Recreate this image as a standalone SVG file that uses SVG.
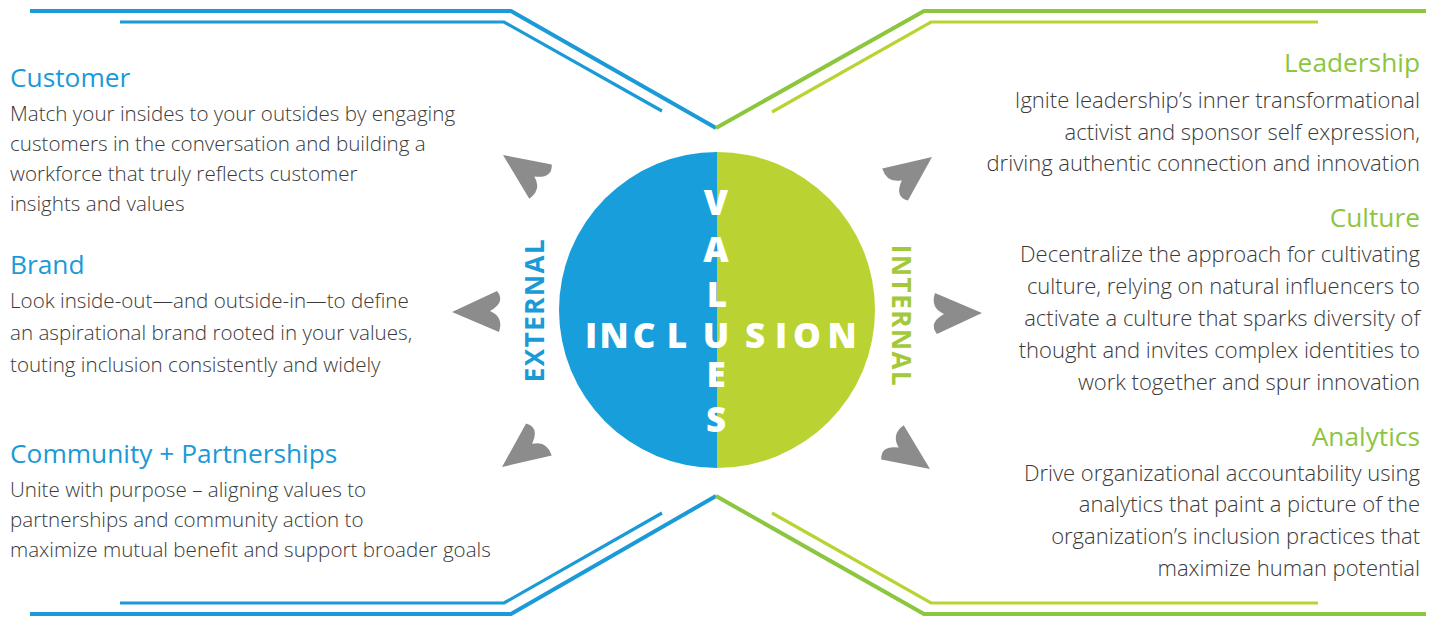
<svg xmlns="http://www.w3.org/2000/svg" width="1435" height="617" viewBox="0 0 1435 617">
<style>
.h{font-family:"Open Sans","Liberation Sans",sans-serif;font-size:26.3px;font-weight:400}
.b{font-family:"Open Sans","Liberation Sans",sans-serif;font-size:20.6px;font-weight:300;fill:#3a3a3a}
.br{font-size:22px}
.bl{fill:#1a9ad6}
.gr{fill:#8cc63f}
.r{text-anchor:end}
.lb{fill:none;stroke:#1a9ad6}
.lg{fill:none;stroke:#8cc63f}
.ly{fill:none;stroke:#b8d433}
.o{stroke-width:4}
.i{stroke-width:3.2}
.arw{fill:#8c8c8c}
.big{font-family:"Open Sans","Liberation Sans",sans-serif;font-weight:800;fill:#ffffff;font-size:35px;text-anchor:middle}
.side{font-family:"Open Sans","Liberation Sans",sans-serif;font-weight:700;font-size:26px;letter-spacing:1.5px;text-anchor:middle}
</style>
<defs>
<path id="ah" d="M0,0 L-47,-20 Q-52,-5 -38,1 Q-54,10 -45,21 Z"/>
</defs>
<g id="connectors">
<path class="lb o" d="M30,11 L511,11 L716,128"/>
<path class="lb i" d="M120,22 L504,22 L662,111"/>
<path class="lg o" d="M716,128 L924,11 L1426,11"/>
<path class="ly i" d="M772,112 L931,22 L1318,22"/>
<path class="lb o" d="M716,496 L511,614 L30,614"/>
<path class="lb i" d="M662,513 L504,603 L120,603"/>
<path class="lg o" d="M716,496 L924,614 L1426,614"/>
<path class="ly i" d="M772,513 L931,603 L1318,603"/>
<use href="#ah" class="arw" transform="translate(503,155) rotate(-144)"/>
<use href="#ah" class="arw" transform="translate(452,312) rotate(180)"/>
<use href="#ah" class="arw" transform="translate(502,467) rotate(144)"/>
<use href="#ah" class="arw" transform="translate(932,157) rotate(-36)"/>
<use href="#ah" class="arw" transform="translate(982,313)"/>
<use href="#ah" class="arw" transform="translate(930,469) rotate(36)"/>
</g>
<g id="center">
<path d="M717,152 A158,158 0 0 0 717,468 Z" fill="#189fdb"/>
<path d="M717,152 A158,158 0 0 1 717,468 Z" fill="#bad333"/>
<text class="big" x="716" y="215">V</text>
<text class="big" x="716" y="262">A</text>
<text class="big" x="717" y="307">L</text>
<text class="big" x="716" y="387">E</text>
<text class="big" x="716" y="432">S</text>
<text class="big" x="591" y="348">I</text>
<text class="big" x="614" y="348">N</text>
<text class="big" x="644" y="348">C</text>
<text class="big" x="677" y="348">L</text>
<text class="big" x="716" y="348">U</text>
<text class="big" x="755" y="348">S</text>
<text class="big" x="781" y="348">I</text>
<text class="big" x="807" y="348">O</text>
<text class="big" x="842" y="348">N</text>
</g>
<g id="external">
<text class="side bl" transform="translate(544,310) rotate(-90)">EXTERNAL</text>
</g>
<g id="internal">
<text class="side" fill="#a3c93a" transform="translate(892,316) rotate(90)">INTERNAL</text>
</g>
<g id="customer">
<text class="h bl" x="10" y="87">Customer</text>
<text class="b" x="10" y="121">Match your insides to your outsides by engaging</text>
<text class="b" x="10" y="151">customers in the conversation and building a</text>
<text class="b" x="10" y="181">workforce that truly reflects customer</text>
<text class="b" x="10" y="211">insights and values</text>
</g>
<g id="brand">
<text class="h bl" x="10" y="274">Brand</text>
<text class="b" x="10" y="308">Look inside-out—and outside-in—to define</text>
<text class="b" x="10" y="340">an aspirational brand rooted in your values,</text>
<text class="b" x="10" y="372">touting inclusion consistently and widely</text>
</g>
<g id="community">
<text class="h bl" x="10" y="463">Community + Partnerships</text>
<text class="b" x="10" y="497">Unite with purpose – aligning values to</text>
<text class="b" x="10" y="527">partnerships and community action to</text>
<text class="b" x="10" y="557">maximize mutual benefit and support broader goals</text>
</g>
<g id="leadership">
<text class="h gr r" x="1420" y="72">Leadership</text>
<text class="b br r" x="1420" y="108">Ignite leadership’s inner transformational</text>
<text class="b br r" x="1420" y="140">activist and sponsor self expression,</text>
<text class="b br r" x="1420" y="171">driving authentic connection and innovation</text>
</g>
<g id="culture">
<text class="h gr r" x="1420" y="227">Culture</text>
<text class="b br r" x="1420" y="262">Decentralize the approach for cultivating</text>
<text class="b br r" x="1420" y="294">culture, relying on natural influencers to</text>
<text class="b br r" x="1420" y="326">activate a culture that sparks diversity of</text>
<text class="b br r" x="1420" y="358">thought and invites complex identities to</text>
<text class="b br r" x="1420" y="390">work together and spur innovation</text>
</g>
<g id="analytics">
<text class="h gr r" x="1420" y="446">Analytics</text>
<text class="b br r" x="1420" y="481">Drive organizational accountability using</text>
<text class="b br r" x="1420" y="512">analytics that paint a picture of the</text>
<text class="b br r" x="1420" y="544">organization’s inclusion practices that</text>
<text class="b br r" x="1420" y="576">maximize human potential</text>
</g>
</svg>
